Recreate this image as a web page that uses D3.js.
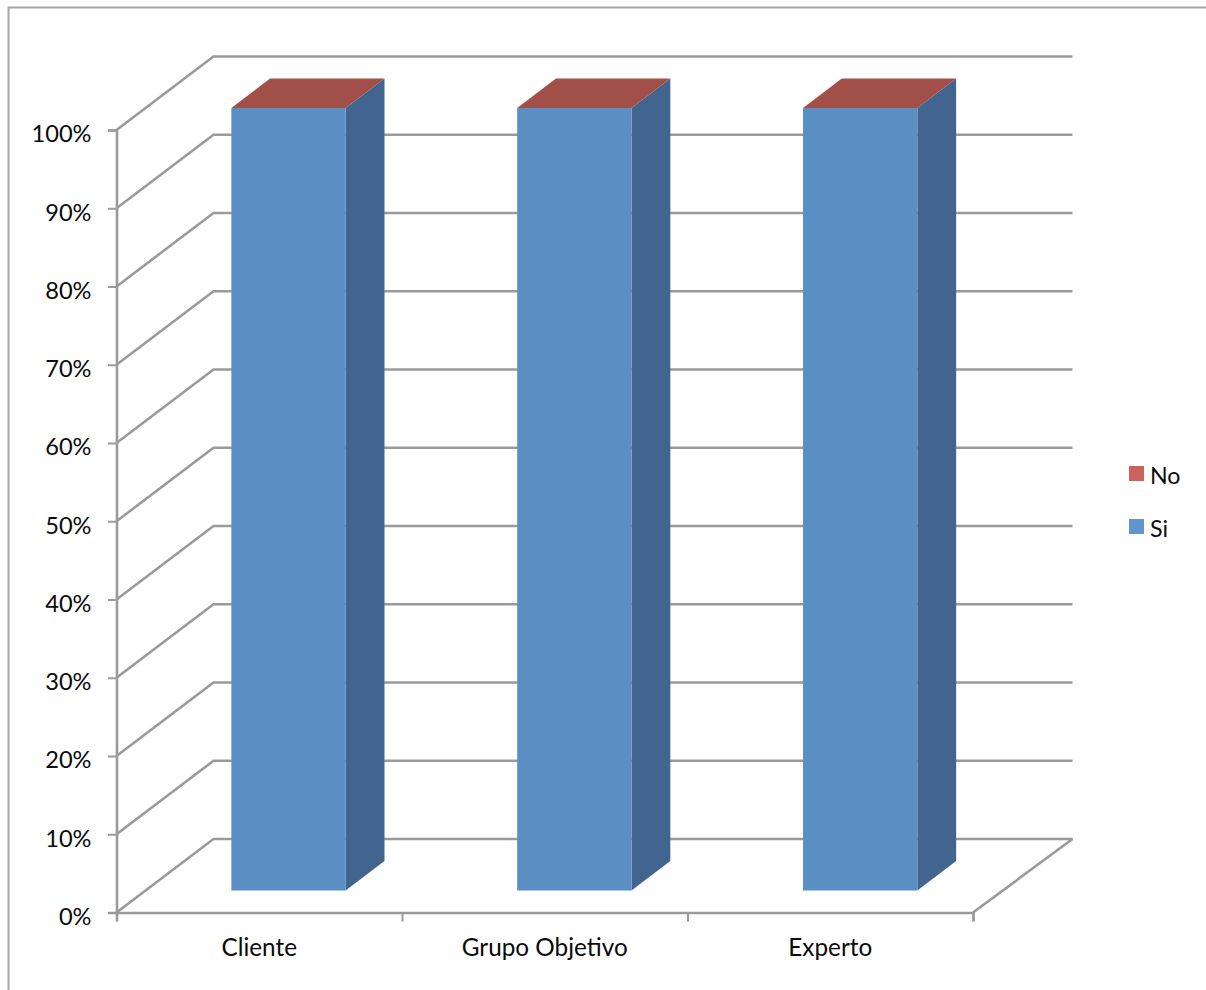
<!DOCTYPE html>
<html><head><meta charset="utf-8">
<script src="https://cdn.jsdelivr.net/npm/d3@7"></script>
<style>html,body{margin:0;padding:0;background:#fff;overflow:hidden}svg{display:block}
text{font-family:Lato,"Open Sans",sans-serif;fill:#0a0a0a}</style>
</head><body><svg id="c" width="1206" height="990"></svg>
<script>
const categories = ["Cliente", "Grupo Objetivo", "Experto"];
const seriesNames = ["Si", "No"];
const siValues = [100, 100, 100];
const noValues = [0, 0, 0];
const yTicks = [0,10,20,30,40,50,60,70,80,90,100];

const svg = d3.select("#c");
const gray = "#9a9a9a";
const FS = 24.3, FS_TICK = 23.6, FS_LEGEND = 23.2;
const x0 = 116.5, x1 = 973, y0 = 912.5, y1 = 130;
const depthX = 97, depthY = -73.5, wallRight = 1072.5;

const x = d3.scaleBand().domain(categories).range([x0, x1 + 1]).paddingInner(0.6).paddingOuter(0.3);
const y = d3.scaleLinear().domain([0, 100]).range([y0, y1]);

// chart frame
svg.append("path").attr("d", "M8.5,995V7.5H1211").attr("fill", "none").attr("stroke", "#a6a6a6").attr("stroke-width", 2);

// walls: gridlines
const grid = svg.append("g").attr("fill", "none").attr("stroke", gray).attr("stroke-width", 2.6);
grid.selectAll("path").data(yTicks).join("path")
  .attr("d", d => `M${x0},${y(d)}L${x0 + depthX},${y(d) + depthY}H${wallRight}`);
// floor outline
grid.append("path").attr("d", `M${x1},${y0}L${wallRight},${y0 + depthY}`);

// axes
const axisLeft = d3.axisLeft(y).tickValues(yTicks).tickFormat(d => d + "%").tickSize(8.5).tickPadding(16.5);
const gy = svg.append("g").attr("transform", `translate(${x0},0)`).call(axisLeft);
const tickScale = d3.scaleLinear().domain([0, categories.length]).range([x0, x1]);
const axisBottom = d3.axisBottom(tickScale)
  .tickValues(d3.range(categories.length + 1)).tickFormat("").tickSize(9);
const gx = svg.append("g").attr("transform", `translate(0,${y0})`).call(axisBottom);
[gy, gx].forEach(g => {
  g.selectAll(".domain").attr("stroke", gray).attr("stroke-width", 2.6);
  g.selectAll(".tick line").attr("stroke", gray).attr("stroke-width", 2);
});
gy.selectAll("text").attr("font-size", FS_TICK).attr("font-family", "Lato").attr("fill", "#0a0a0a").attr("dy", "0.5em");

// category labels
svg.append("g").selectAll("text").data(categories).join("text")
  .attr("x", (d, i) => tickScale(i + 0.5)).attr("y", 956)
  .attr("text-anchor", "middle").attr("font-size", FS).text(d => d);

// bars in the middle of the depth
const dFront = 0.3, dBack = 0.7;
const px = (v, t) => v + t * depthX, py = (v, t) => y(v) + t * depthY;
const rows = categories.map((c, i) => ({c, si: siValues[i], no: noValues[i]}));
const bars = svg.append("g").selectAll("g").data(rows).join("g");
const poly = pts => "M" + pts.map(p => p.join(",")).join("L") + "Z";
// side
bars.append("path").attr("fill", "#41658e").attr("d", d => {
  const r = x(d.c) + x.bandwidth();
  return poly([[px(r, dFront), py(0, dFront)], [px(r, dBack), py(0, dBack)], [px(r, dBack), py(d.si, dBack)], [px(r, dFront), py(d.si, dFront)]]);
});
// front
bars.append("path").attr("fill", "#5b8fc4").attr("d", d => {
  const l = x(d.c), r = l + x.bandwidth();
  return poly([[px(l, dFront), py(0, dFront)], [px(r, dFront), py(0, dFront)], [px(r, dFront), py(d.si, dFront)], [px(l, dFront), py(d.si, dFront)]]);
});
// top: the zero-height "No" segment
bars.append("path").attr("fill", "#a34f49").attr("d", d => {
  const l = x(d.c), r = l + x.bandwidth(), v = d.si + d.no;
  return poly([[px(l, dFront), py(v, dFront)], [px(r, dFront), py(v, dFront)], [px(r, dBack), py(v, dBack)], [px(l, dBack), py(v, dBack)]]);
});

// legend
const legendNames = seriesNames.slice().reverse();
const legendColor = d3.scaleOrdinal().domain(seriesNames).range(["#6195cc", "#cb625c"]);
const legendY = d3.scalePoint().domain(legendNames).range([466, 519]);
const lg = svg.append("g").selectAll("g").data(legendNames).join("g")
  .attr("transform", d => `translate(1129,${legendY(d)})`);
lg.append("rect").attr("width", 15).attr("height", 15).attr("fill", d => legendColor(d));
lg.append("text").attr("x", 21).attr("y", 18).attr("font-size", FS_LEGEND).text(d => d);
</script></body></html>
